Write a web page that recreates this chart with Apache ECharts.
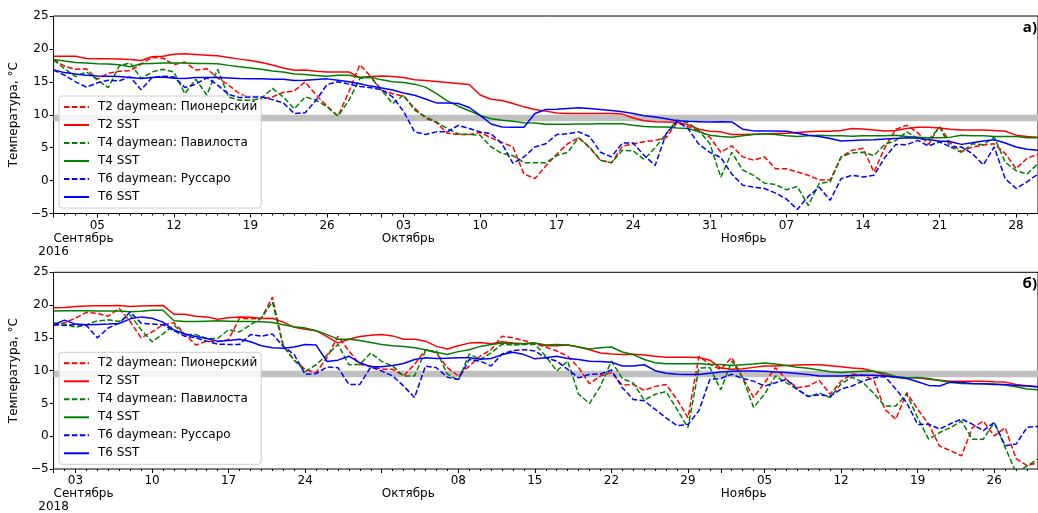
<!DOCTYPE html>
<html><head><meta charset="utf-8">
<script src="https://cdn.jsdelivr.net/npm/echarts@6/dist/echarts.min.js"></script>
<style>html,body{margin:0;padding:0;background:#fff}#c{width:1038px;height:513px}</style>
</head><body><div id="c"></div>
<script>
// ---------- data ----------
const years = ['2016', '2018'];
const panelTags = ['а)', 'б)'];
const nDays = 91; // 1 Sep .. 30 Nov, daily
const monthNames = ['Сентябрь', 'Октябрь', 'Ноябрь'];
const monthStartDays = [0, 30, 61];
const weekDays2016 = [4, 11, 18, 25, 32, 39, 46, 53, 60, 67, 74, 81, 88];
const weekLabels2016 = ['05', '12', '19', '26', '03', '10', '17', '24', '31', '07', '14', '21', '28'];
const weekDays2018 = [2, 9, 16, 23, 30, 37, 44, 51, 58, 65, 72, 79, 86];
const weekLabels2018 = ['03', '10', '17', '24', '', '08', '15', '22', '29', '05', '12', '19', '26'];
const seriesNames = ['T2 daymean: Пионерский', 'T2 SST', 'T4 daymean: Павилоста', 'T4 SST', 'T6 daymean: Руссаро', 'T6 SST'];

const t2Day2016 = [18.4,17.4,16.9,17.0,15.4,16.3,16.6,16.7,17.7,18.7, 18.6,17.6,18.0,16.8,17.0,15.6,14.5,13.2,12.5,12.4, 12.7,13.4,13.6,15.0,13.0,11.3,9.8,13.5,17.6,15.8, 13.7,13.2,12.8,11.0,9.5,8.8,7.2,7.0,7.0,7.3, 6.5,5.8,5.1,1.0,0.3,2.2,4.0,5.6,6.5,5.0, 3.1,2.7,5.2,5.6,5.9,6.1,6.5,8.8,8.2,7.6, 6.6,4.3,5.3,3.6,3.1,3.6,1.8,1.8,1.3,0.8, 0.1,0.1,3.6,4.6,4.9,1.3,5.0,7.8,8.4,7.3, 5.5,8.3,5.7,4.4,5.1,5.4,5.6,4.1,1.8,3.4, 4.0];
const t2Sst2016 = [18.9,18.9,18.9,18.55,18.5,18.5,18.45,18.4,18.25,18.8, 18.9,19.2,19.25,19.15,19.05,18.95,18.7,18.45,18.25,17.95, 17.55,17.1,16.75,16.8,16.6,16.5,16.5,16.5,15.65,15.8, 15.9,15.8,15.65,15.3,15.2,15.05,14.9,14.75,14.6,13.0, 12.35,12.15,11.7,11.2,10.8,10.55,10.25,10.2,10.2,10.2, 10.2,10.2,10.1,9.5,9.1,8.95,8.9,8.85,8.5,7.8, 7.5,7.4,7.0,7.0,7.05,7.1,7.15,7.2,7.3,7.4, 7.5,7.5,7.6,7.9,7.85,7.7,7.55,7.6,7.9,8.1, 8.1,8.0,7.8,7.7,7.7,7.7,7.6,7.5,6.9,6.7, 6.6];
const t4Day2016 = [18.3,17.0,15.8,16.5,15.3,14.1,17.4,17.9,15.5,16.5, 16.9,16.5,13.2,15.4,13.0,16.9,12.7,12.2,12.2,12.5, 14.0,12.7,10.9,12.7,12.2,11.2,9.8,12.2,15.5,15.7, 13.7,11.7,13.0,10.7,9.7,8.9,7.9,7.1,7.0,6.9, 5.1,4.1,3.8,2.7,2.7,2.7,3.8,4.3,6.5,5.1, 3.1,2.7,4.6,4.5,3.2,5.0,7.1,9.2,8.8,7.6, 5.6,0.5,4.3,1.6,0.8,-0.4,-0.6,-1.4,-0.9,-3.8, -0.4,-0.2,3.6,4.2,4.3,3.8,5.5,6.1,7.4,6.4, 6.2,8.1,5.1,4.3,5.6,5.45,6.6,2.8,1.5,1.0, 2.6];
const t4Sst2016 = [18.4,18.15,17.95,17.85,17.75,17.7,17.6,17.3,17.75,17.8, 17.85,17.85,17.85,17.8,17.8,17.75,17.5,17.3,17.1,16.9, 16.65,16.5,16.2,16.1,15.95,15.85,16.0,16.0,15.65,15.7, 15.3,15.0,14.9,14.65,14.2,13.2,12.1,11.3,10.6,9.9, 9.4,9.15,9.0,8.8,8.75,8.55,8.55,8.55,8.6,8.6, 8.65,8.65,8.65,8.4,8.2,8.15,8.15,8.0,7.9,7.4, 6.9,6.7,6.6,6.8,7.0,7.1,7.0,6.8,6.7,6.8, 6.9,6.8,6.8,6.75,6.8,6.8,6.8,6.9,6.7,6.6, 6.5,6.5,6.6,6.9,6.8,6.8,6.7,6.7,6.7,6.5, 6.5];
const t6Day2016 = [16.8,16.0,15.0,14.2,14.85,15.25,15.15,15.75,13.8,15.65, 15.85,15.75,14.15,14.65,15.6,14.5,13.1,12.6,12.7,12.7, 12.3,11.8,10.2,10.3,12.2,14.6,15.0,14.65,14.3,14.1, 13.8,12.7,10.5,7.4,7.0,7.4,7.4,8.4,7.9,7.4, 7.1,5.6,2.6,3.6,5.1,5.6,7.0,7.1,7.4,6.7, 4.3,3.6,5.7,5.7,3.8,2.3,7.1,9.0,7.9,5.5, 4.3,3.5,1.0,-0.7,-1.0,-1.2,-1.9,-2.8,-4.4,-2.4, -1.0,-3.0,0.3,0.8,0.55,0.8,3.5,5.5,5.45,6.1, 5.25,5.9,5.1,5.1,4.1,2.4,5.1,0.3,-1.2,-0.2, 1.0];
const t6Sst2016 = [16.8,16.4,16.2,16.0,15.9,15.85,15.8,15.65,15.5,15.65, 15.75,15.55,15.5,15.65,15.65,15.65,15.6,15.5,15.45,15.45, 15.4,15.4,15.2,15.25,15.35,15.45,15.25,15.0,14.7,14.35, 14.05,13.75,13.3,12.95,12.4,11.8,11.8,11.7,11.1,9.9, 8.6,8.15,8.1,8.1,10.2,10.8,10.85,10.95,11.05,10.95, 10.8,10.65,10.45,10.2,9.85,9.65,9.4,9.1,9.0,8.95, 8.9,8.95,8.9,7.8,7.55,7.55,7.55,7.5,7.2,6.9, 6.7,6.4,6.0,6.1,6.15,6.2,6.3,6.4,6.5,6.45, 6.2,6.0,5.9,5.5,5.75,6.0,6.2,5.7,5.1,4.75, 4.6];

const t2Day2018 = [16.9,17.3,18.0,18.9,18.75,18.3,19.5,17.5,15.0,15.9, 17.0,17.3,15.6,13.9,14.5,14.4,14.75,18.0,17.9,18.0, 21.2,13.8,11.6,10.2,9.7,12.0,15.25,13.0,10.95,10.7, 10.2,10.2,9.2,10.95,13.2,12.7,10.45,9.2,10.7,12.2, 13.2,15.25,15.0,14.6,14.1,13.6,13.0,12.2,10.45,8.0, 9.2,9.7,7.8,7.9,7.0,7.6,7.9,5.6,2.8,12.2, 10.95,10.2,12.0,8.9,5.9,8.15,10.45,8.65,7.4,7.65, 8.5,6.4,8.4,9.45,9.35,8.5,4.1,2.6,6.65,4.1, 1.85,-1.5,-2.2,-3.0,1.3,2.3,0.05,1.3,-3.4,-4.5, -4.0];
const t2Sst2018 = [19.6,19.65,19.8,19.85,19.9,19.9,19.95,19.8,19.85,19.9, 19.95,18.6,18.6,18.3,18.2,17.85,18.05,18.2,18.15,17.95, 18.0,17.4,16.6,16.3,16.1,15.2,14.2,14.8,15.2,15.4, 15.5,15.3,14.8,14.8,14.5,13.7,13.3,13.8,14.2,14.3, 14.1,14.4,14.2,14.1,14.2,13.8,13.8,13.9,13.6,13.2, 12.7,12.55,12.45,12.5,12.4,12.2,12.05,12.05,12.05,12.0, 11.6,10.4,10.2,10.3,10.5,10.7,10.7,10.8,10.85,10.9, 10.9,10.75,10.6,10.4,10.3,9.9,9.3,9.0,8.9,8.9, 8.7,8.55,8.4,8.4,8.4,8.4,8.3,8.25,7.9,7.7, 7.6];
const t4Day2018 = [17.25,17.1,16.6,17.0,17.6,17.75,17.5,18.5,16.25,14.4, 15.6,16.9,15.5,15.5,14.9,14.9,16.25,15.9,17.0,18.0, 20.5,13.7,11.6,9.9,10.9,12.4,14.0,10.9,10.95,12.7, 11.4,10.7,9.2,9.2,13.0,13.0,9.5,8.5,12.55,11.7, 12.7,14.05,13.9,14.0,14.0,12.2,9.95,11.45,6.4,5.0, 7.65,11.45,8.8,8.1,5.5,6.4,6.8,4.1,1.3,10.4, 10.45,7.1,11.45,8.9,4.4,6.4,9.2,8.15,7.15,6.0, 6.6,5.9,8.0,9.0,8.2,6.5,4.6,4.6,6.4,2.8, -0.45,0.56,1.3,2.3,-0.45,-0.45,2.1,-1.7,-5.6,-4.5, -3.5];
const t4Sst2018 = [19.1,19.15,19.15,19.15,19.1,19.1,19.1,19.0,19.05,19.2, 19.2,17.6,17.5,17.5,17.55,17.6,17.55,17.5,17.5,17.45, 17.35,17.0,16.7,16.5,16.1,15.5,14.8,14.8,14.6,14.3, 14.0,13.8,13.7,13.5,13.2,12.8,12.45,12.9,13.2,13.7, 14.0,14.2,14.1,14.1,14.2,13.9,14.0,13.9,13.6,13.3, 13.5,13.6,12.85,12.45,11.7,11.2,11.05,11.05,11.05,11.1, 10.95,10.95,10.8,10.9,11.0,11.15,11.0,10.8,10.5,10.35, 10.1,9.85,9.7,9.85,9.9,9.9,9.6,9.1,8.9,8.95, 8.8,8.5,8.2,8.05,8.0,8.0,7.95,7.8,7.55,7.2, 7.1];
const t6Day2018 = [17.0,16.9,17.0,16.9,15.0,16.5,17.25,18.95,17.25,17.1, 17.0,16.1,15.25,15.0,14.5,14.05,14.0,14.0,15.5,15.25, 15.6,13.7,12.45,9.45,9.55,10.55,10.45,7.9,7.9,10.55, 9.95,9.2,7.65,5.9,10.7,10.45,9.0,8.65,11.7,11.45, 10.7,12.55,13.05,13.2,13.0,11.95,11.45,10.2,8.9,9.45, 9.5,10.1,7.4,5.6,5.4,4.1,2.8,1.6,1.8,3.9, 8.65,8.8,9.45,8.8,8.4,7.65,8.15,8.65,7.15,6.1, 6.3,6.1,7.2,7.65,8.4,8.9,9.1,7.2,5.1,1.8, 1.85,1.1,1.9,2.6,1.85,0.85,2.1,-1.45,-1.2,1.35, 1.5];
const t6Sst2018 = [17.0,17.7,17.1,17.0,17.05,17.1,17.2,17.9,18.2,18.0, 17.4,16.2,15.6,15.2,14.9,14.5,14.6,14.8,14.4,13.8, 13.5,13.4,13.6,14.0,13.9,11.4,11.6,12.2,11.2,10.6, 10.6,10.8,11.1,11.7,11.95,11.85,11.9,11.95,11.95,11.75, 11.85,12.45,12.8,12.45,11.8,11.95,12.2,11.85,11.7,11.45, 11.4,11.3,10.7,10.7,10.9,10.0,9.6,9.45,9.4,9.4, 9.6,9.8,9.9,9.95,9.95,9.9,9.8,9.7,9.55,9.4, 9.2,9.2,9.2,9.25,9.3,9.3,9.2,9.0,8.8,8.3, 7.75,7.65,8.25,8.2,8.05,8.0,7.9,7.9,7.75,7.65, 7.5];

const bandRange = [9, 10];

// ---------- chart ----------
const font = 'DejaVu Sans';
const colors = ['#ff0000', '#ff0000', '#008000', '#008000', '#0000ff', '#0000ff'];
const dashed = [true, false, true, false, true, false];
const panelData = [
  [t2Day2016, t2Sst2016, t4Day2016, t4Sst2016, t6Day2016, t6Sst2016],
  [t2Day2018, t2Sst2018, t4Day2018, t4Sst2018, t6Day2018, t6Sst2018]
];
const weekDays = [weekDays2016, weekDays2018];
const weekLabels = [weekLabels2016, weekLabels2018];
const gridTops = [16, 272.3];
const gridH = 197.5;
const allDays = Array.from({length: nDays}, (_, i) => i);

const grid = [], xAxis = [], yAxis = [], series = [], legend = [], title = [];
const lbl = {color: '#000', fontFamily: font, fontSize: 12};
for (let g = 0; g < 2; g++) {
  grid.push({left: 53.3, width: 993, top: gridTops[g], height: gridH,
    show: true, borderColor: '#000', borderWidth: 1, backgroundColor: 'transparent'});
  const base = {type: 'value', gridIndex: g, min: 0, max: nDays - 1, position: 'bottom',
    axisLine: {show: false, onZero: false}, splitLine: {show: false}};
  const wmap = {};
  weekDays[g].forEach((d, i) => wmap[d] = weekLabels[g][i]);
  const xi = xAxis.length;
  xAxis.push(Object.assign({}, base, {
    axisTick: {show: true, customValues: weekDays[g], length: 4, lineStyle: {color: '#000', width: 1}},
    axisLabel: Object.assign({customValues: weekDays[g], margin: 6, formatter: v => wmap[Math.round(v)] || ''}, lbl)
  }));
  xAxis.push(Object.assign({}, base, {
    axisTick: {show: true, customValues: allDays, length: 2, lineStyle: {color: '#000', width: 1}},
    axisLabel: {show: false}
  }));
  const mmap = {};
  monthStartDays.forEach((d, i) => mmap[d] = monthNames[i]);
  xAxis.push(Object.assign({}, base, {
    axisTick: {show: true, customValues: monthStartDays, length: 4, lineStyle: {color: '#000', width: 1}},
    axisLabel: Object.assign({customValues: monthStartDays, margin: 19, align: 'left', formatter: v => mmap[Math.round(v)] || ''}, lbl)
  }));
  xAxis.push(Object.assign({}, base, {
    axisTick: {show: false},
    axisLabel: Object.assign({customValues: [0], margin: 32, align: 'center', formatter: () => years[g]}, lbl)
  }));
  yAxis.push({type: 'value', gridIndex: g, min: -5, max: 25, interval: 5,
    axisLine: {show: false, onZero: false}, splitLine: {show: false},
    axisTick: {show: true, length: 4, lineStyle: {color: '#000', width: 1}},
    axisLabel: Object.assign({margin: 5, formatter: v => v < 0 ? '\u2212' + Math.abs(v) : String(v)}, lbl),
    name: 'Температура, °C', nameLocation: 'middle', nameGap: 24,
    nameTextStyle: {color: '#000', fontFamily: font, fontSize: 12}
  });
  series.push({type: 'line', xAxisIndex: xi, yAxisIndex: g, data: [], z: 1, silent: true,
    markArea: {silent: true, itemStyle: {color: '#c0c0c0', opacity: 1},
      data: [[{yAxis: bandRange[0]}, {yAxis: bandRange[1]}]]}});
  panelData[g].forEach((vals, k) => {
    series.push({type: 'line', name: seriesNames[k], xAxisIndex: xi, yAxisIndex: g,
      data: vals.map((v, i) => [allDays[i], v]), symbol: 'none', showSymbol: false, z: 3 + k,
      lineStyle: {color: colors[k], width: 1.5, type: dashed[k] ? [5.5, 2.4] : 'solid'},
      itemStyle: {color: colors[k]}, clip: true});
  });
  legend.push({orient: 'vertical', left: 59, top: gridTops[g] + 80, data: seriesNames,
    itemWidth: 25, itemHeight: 12, itemGap: 6, padding: [5, 4, 5, 4],
    itemStyle: {opacity: 0},
    backgroundColor: 'rgba(255,255,255,0.8)', borderColor: '#cccccc', borderWidth: 1, borderRadius: 3,
    textStyle: {color: '#000', fontFamily: font, fontSize: 12, padding: [0, 0, 0, 4]}});
  title.push({text: panelTags[g], right: 1, top: gridTops[g] + 4, padding: 0,
    textStyle: {fontFamily: 'Open Sans', fontWeight: 'bold', fontSize: 15, color: '#000'}});
}

const chart = echarts.init(document.getElementById('c'), null, {renderer: 'canvas'});
chart.setOption({animation: false, backgroundColor: '#fff', grid, xAxis, yAxis, series, legend, title});
</script></body></html>
